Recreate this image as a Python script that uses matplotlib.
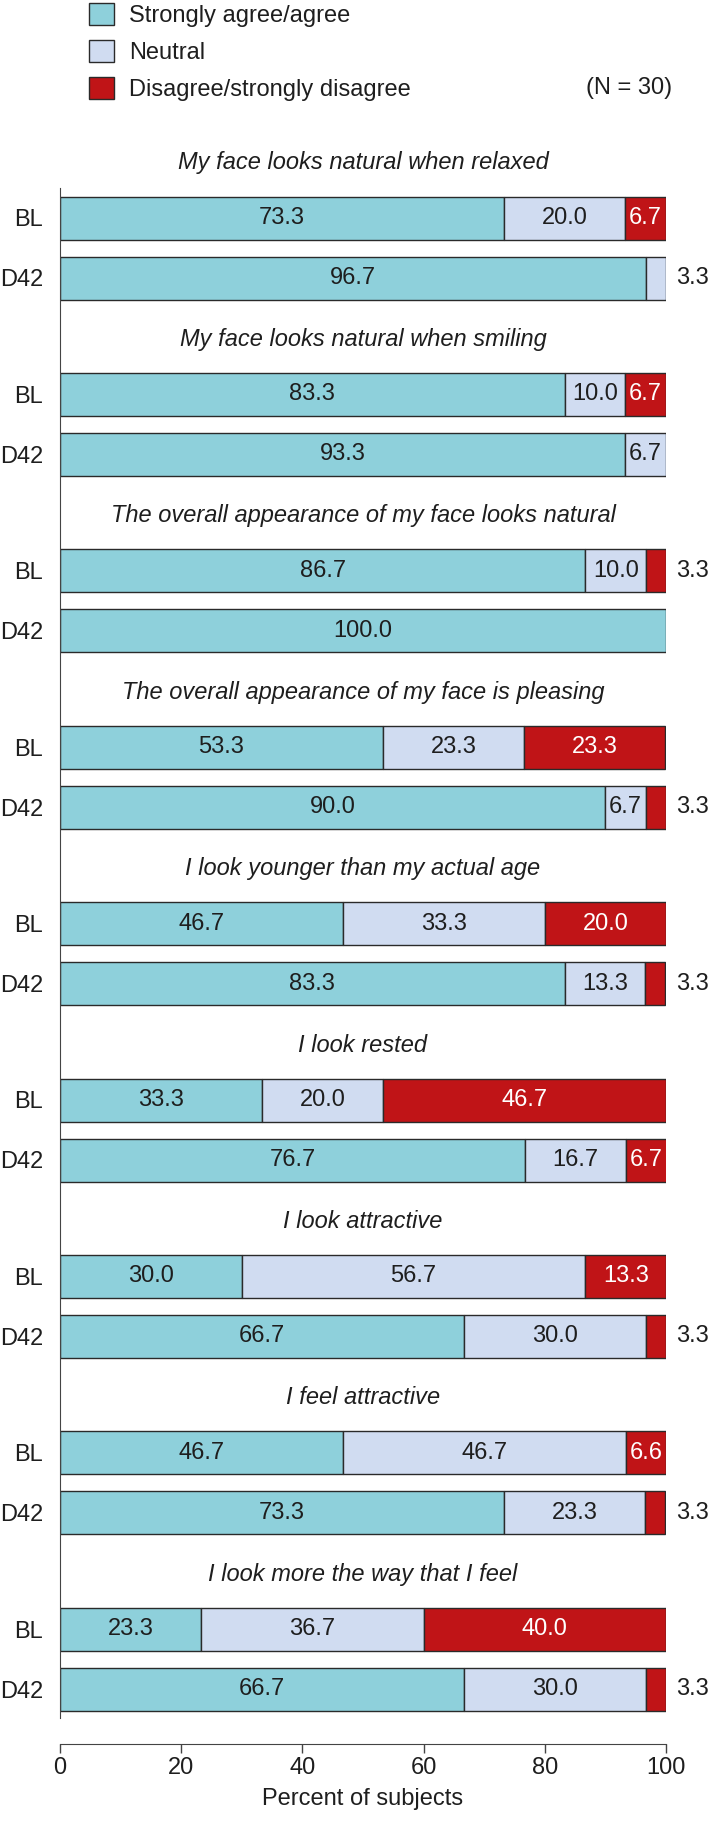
import matplotlib
matplotlib.use("Agg")
import matplotlib.pyplot as plt
from matplotlib.patches import Patch

plt.rcParams['font.family'] = ['Liberation Sans', 'DejaVu Sans']

questions = [
    "My face looks natural when relaxed",
    "My face looks natural when smiling",
    "The overall appearance of my face looks natural",
    "The overall appearance of my face is pleasing",
    "I look younger than my actual age",
    "I look rested",
    "I look attractive",
    "I feel attractive",
    "I look more the way that I feel",
]
timepoints = ["BL", "D42"]
categories = ["Strongly agree/agree", "Neutral", "Disagree/strongly disagree"]

# [agree, neutral, disagree] per question
bl = [
    [73.3, 20.0, 6.7],
    [83.3, 10.0, 6.7],
    [86.7, 10.0, 3.3],
    [53.3, 23.3, 23.3],
    [46.7, 33.3, 20.0],
    [33.3, 20.0, 46.7],
    [30.0, 56.7, 13.3],
    [46.7, 46.7, 6.6],
    [23.3, 36.7, 40.0],
]
d42 = [
    [96.7, 3.3, 0.0],
    [93.3, 6.7, 0.0],
    [100.0, 0.0, 0.0],
    [90.0, 6.7, 3.3],
    [83.3, 13.3, 3.3],
    [76.7, 16.7, 6.7],
    [66.7, 30.0, 3.3],
    [73.3, 23.3, 3.3],
    [66.7, 30.0, 3.3],
]

colors = ["#8ed0db", "#d0dcf1", "#c01417"]
text_colors = ["#1e1e1e", "#1e1e1e", "white"]
edge = "#2a2a2a"
fs = 17

W, H = 709, 1822
fig = plt.figure(figsize=(W / 100, H / 100), dpi=100)

# layout in pixels
px_left, px_right = 60, 666
px_top, px_axis = 188, 1744
panel_px = 176.4
ax = fig.add_axes([px_left / W, 1 - px_axis / H,
                   (px_right - px_left) / W, (px_axis - px_top) / H])

top = -30 / panel_px
bottom = top + (px_axis - px_top) / panel_px
d42_off = 60 / panel_px
bar_h = 43 / panel_px

ytick_pos, ytick_lab = [], []
for i, q in enumerate(questions):
    for j, vals in enumerate([bl[i], d42[i]]):
        y = i + j * d42_off
        ytick_pos.append(y)
        ytick_lab.append(timepoints[j])
        left = 0
        for k, v in enumerate(vals):
            if v <= 0:
                continue
            ax.barh(y, v, left=left, height=bar_h, color=colors[k],
                    edgecolor=edge, linewidth=1.0)
            if v >= 5:
                ax.text(left + v / 2, y, f"{v:.1f}", ha="center", va="center",
                        fontsize=fs, color=text_colors[k])
            else:
                # small segments get their label outside the bar
                ax.annotate(f"{v:.1f}", xy=(left + v, y), xytext=(7.5, 0),
                            textcoords="offset points", ha="left", va="center",
                            fontsize=fs, color="#1e1e1e", annotation_clip=False)
            left += v
    ax.text(50, i - 55 / panel_px, q, ha="center", va="center", fontsize=fs,
            style="italic", color="#1e1e1e", clip_on=False)

ax.set_xlim(0, 100)
ax.set_ylim(bottom, top)
ax.set_yticks(ytick_pos)
ax.set_yticklabels(ytick_lab)
ax.set_xticks([0, 20, 40, 60, 80, 100])
ax.tick_params(axis="y", length=0, pad=12, labelsize=fs, labelcolor="#1e1e1e")
ax.tick_params(axis="x", length=6.5, width=1.0, labelsize=fs, labelcolor="#1e1e1e",
               color="#444444", pad=3)
ax.set_xlabel("Percent of subjects", fontsize=fs, color="#1e1e1e", labelpad=6)

for s in ["top", "right"]:
    ax.spines[s].set_visible(False)
ax.spines["left"].set_bounds(bottom - (px_axis - 1718) / panel_px, top)
ax.spines["left"].set_color("#444444")
ax.spines["bottom"].set_color("#444444")
ax.spines["bottom"].set_bounds(0, 100)

handles = [Patch(facecolor=c, edgecolor=edge, linewidth=1.0) for c in colors]
fig.legend(handles, categories, loc="upper left",
           bbox_to_anchor=(89 / W, 1 - 3 / H), frameon=False, fontsize=fs,
           handlelength=1.06, handleheight=1.06, handletextpad=0.62,
           labelspacing=0.55, borderpad=0, borderaxespad=0,
           labelcolor="#1e1e1e")
fig.text(672 / W, 1 - 88 / H, "(N = 30)", ha="right", va="center",
         fontsize=fs, color="#1e1e1e")

fig.savefig("out.png", dpi=100)
